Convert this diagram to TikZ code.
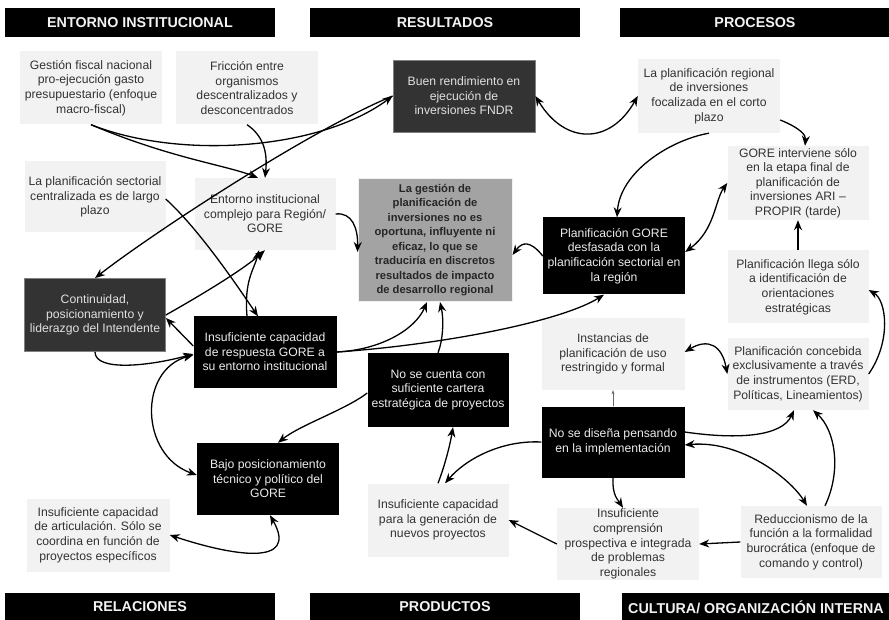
\documentclass[tikz,border=0pt]{standalone}
\usepackage{fontspec}
\setmainfont{Liberation Sans}
\usetikzlibrary{arrows.meta}
\definecolor{lbg}{HTML}{F2F2F2}
\definecolor{ltx}{HTML}{333333}
\definecolor{dg}{HTML}{333333}
\definecolor{cg}{HTML}{A3A3A3}
\begin{document}
\begin{tikzpicture}[x=1pt,y=-1pt,
 box/.style={align=center, inner sep=0pt, font=\fontsize{12.2}{14.6}\selectfont},
 lbox/.style={box, fill=lbg, text=ltx},
 bbox/.style={box, fill=black, text=white!92!black},
 gbox/.style={box, fill=dg, draw=gray, line width=0.8pt, text=white!88!black},
 cbox/.style={box, fill=cg, draw=lbg, line width=1pt, text=black!85, font=\fontsize{11.2}{14.5}\selectfont\bfseries},
 hdr/.style={fill=black, text=white!95!black, font=\fontsize{14.3}{16}\selectfont\bfseries, inner sep=0pt, minimum height=29pt},
 arr/.style={draw=black, line width=1.3pt, -{Stealth[length=10pt,width=8pt]}},
 arrb/.style={draw=black, line width=1.3pt, {Stealth[length=10pt,width=8pt]}-{Stealth[length=10pt,width=8pt]}},
 thin/.style={draw=black!60, line width=0.5pt, -{Stealth[length=4pt,width=3pt]}}]
\useasboundingbox (0,0) rectangle (889,620);
\fill[white] (0,0) rectangle (889,620);
% headers
\node[hdr, minimum width=270pt] (h1) at (140,22.5) {ENTORNO INSTITUCIONAL};
\node[hdr, minimum width=270pt] (h2) at (445,22.5) {RESULTADOS};
\node[hdr, minimum width=270pt] (h3) at (755,22.5) {PROCESOS};
\node[hdr, minimum width=270pt] (h4) at (140,607) {RELACIONES};
\node[hdr, minimum width=270pt] (h5) at (445,607) {PRODUCTOS};
\node[hdr, minimum width=268pt] (h6) at (756,607) {CULTURA/ ORGANIZACIÓN INTERNA};
% nodes
\node[lbox, minimum width=142pt, minimum height=73pt] (gest) at (91,88) {Gestión fiscal nacional\\pro-ejecución gasto\\presupuestario (enfoque\\macro-fiscal)};
\node[lbox, minimum width=142pt, minimum height=73pt] (fric) at (247,88) {Fricción entre\\organismos\\descentralizados y\\desconcentrados};
\node[gbox, minimum width=142pt, minimum height=72pt] (buen) at (464,96) {Buen rendimiento en\\ejecución de\\inversiones FNDR};
\node[lbox, minimum width=142pt, minimum height=74pt] (plreg) at (709,96) {La planificación regional\\de inversiones\\focalizada en el corto\\plazo};
\node[lbox, minimum width=141pt, minimum height=74pt] (goreint) at (798,183) {GORE interviene sólo\\en la etapa final de\\planificación de\\inversiones ARI –\\PROPIR (tarde)};
\node[lbox, minimum width=141pt, minimum height=73pt] (llega) at (798,287) {Planificación llega sólo\\a identificación de\\orientaciones\\estratégicas};
\node[lbox, minimum width=141pt, minimum height=72pt] (conceb) at (798,374) {Planificación concebida\\exclusivamente a través\\de instrumentos (ERD,\\Políticas, Lineamientos)};
\node[lbox, minimum width=141pt, minimum height=72pt] (reduc) at (811,542) {Reduccionismo de la\\función a la formalidad\\burocrática (enfoque de\\comando y control)};
\node[lbox, minimum width=142pt, minimum height=72pt] (compr) at (628,544) {Insuficiente\\comprensión\\prospectiva e integrada\\de problemas\\regionales};
\node[bbox, minimum width=143pt, minimum height=71pt] (disena) at (613,442) {No se diseña pensando\\en la implementación};
\node[lbox, minimum width=143pt, minimum height=72pt] (inst) at (613,354) {Instancias de\\planificación de uso\\restringido y formal};
\node[bbox, minimum width=142pt, minimum height=77pt] (pgore) at (614,256) {Planificación GORE\\desfasada con la\\planificación sectorial en\\la región};
\node[cbox, minimum width=154pt, minimum height=123pt] (central) at (435,240) {La gestión de\\planificación de\\inversiones no es\\oportuna, influyente ni\\eficaz, lo que se\\traduciría en discretos\\resultados de impacto\\de desarrollo regional};
\node[lbox, minimum width=141pt, minimum height=72pt] (entorno) at (265,214) {Entorno institucional\\complejo para Región/\\GORE};
\node[lbox, minimum width=141pt, minimum height=71pt] (sect) at (95,197) {La planificación sectorial\\centralizada es de largo\\plazo};
\node[gbox, minimum width=141pt, minimum height=73pt] (contin) at (95,315) {Continuidad,\\posicionamiento y\\liderazgo del Intendente};
\node[bbox, minimum width=143pt, minimum height=71pt] (insresp) at (265,352) {Insuficiente capacidad\\de respuesta GORE a\\su entorno institucional};
\node[bbox, minimum width=141pt, minimum height=74pt] (cartera) at (438,390) {No se cuenta con\\suficiente cartera\\estratégica de proyectos};
\node[bbox, minimum width=142pt, minimum height=72pt] (bajo) at (268,479) {Bajo posicionamiento\\técnico y político del\\GORE};
\node[lbox, minimum width=143pt, minimum height=73pt] (artic) at (98,535) {Insuficiente capacidad\\de articulación. Sólo se\\coordina en función de\\proyectos específicos};
\node[lbox, minimum width=141pt, minimum height=73pt] (gener) at (438,520) {Insuficiente capacidad\\para la generación de\\nuevos proyectos};
% connectors
\draw[arr] (gest.south) .. controls (180,160) and (320,150) .. (buen.west);
\draw[arr] (gest.south) .. controls (170,158) and (225,165) .. ([xshift=-7pt]entorno.north);
\draw[arr] (fric.south) .. controls (262,135) and (268,150) .. (entorno.north);
\draw[arr] (buen.west) .. controls (310,130) and (150,235) .. (contin.north);
\draw[arr] ([yshift=-2pt]sect.east) .. controls (200,230) and (240,290) .. ([xshift=-7pt]insresp.north);
\draw[arr] (contin.east) .. controls (210,290) and (245,268) .. (entorno.south);
\draw[arr] ([xshift=-18pt]insresp.north) .. controls (244,280) and (254,270) .. ([xshift=-6pt]entorno.south);
\draw[arr] (insresp.east) .. controls (380,350) and (415,330) .. ([xshift=-8pt]central.south);
\draw[arr] (insresp.east) .. controls (440,345) and (560,322) .. ([xshift=-10pt]pgore.south);
\draw[arr] (cartera.north) .. controls (443,340) and (444,320) .. ([xshift=5pt]central.south);
\draw[arr] (entorno.east) .. controls (352,212) and (358,228) .. ([yshift=-12pt]central.west);
\draw[arr] (pgore.west) .. controls (530,240) and (522,242) .. ([yshift=-15pt]central.east);
\draw[arr] (plreg.south) .. controls (670,140) and (620,172) .. ([xshift=3pt]pgore.north);
\draw[arrb] (buen.east) .. controls (565,145) and (610,145) .. (plreg.west);
\draw[arr] ([yshift=-24pt]plreg.east) .. controls (800,128) and (806,135) .. ([xshift=7pt]goreint.north);
\draw[arrb] ([yshift=4pt]pgore.east) .. controls (715,230) and (715,200) .. (goreint.west);
\draw[arr] (llega.north) -- (goreint.south);
\draw[arr] (conceb.east) .. controls (892,340) and (886,300) .. ([yshift=-3pt]llega.east);
\draw[arrb] ([yshift=2pt]inst.east) .. controls (708,338) and (722,345) .. (conceb.west);
\draw[thin] (disena.north) -- (inst.south);
\draw[arr] ([yshift=10pt]disena.east) .. controls (740,440) and (782,436) .. ([xshift=-4pt]conceb.south);
\draw[arrb] ([yshift=-3pt]disena.east) .. controls (740,440) and (790,478) .. ([xshift=-4pt]reduc.north);
\draw[arr] ([xshift=14pt]reduc.north) .. controls (842,470) and (835,430) .. ([xshift=15pt]conceb.south);
\draw[arr] (reduc.west) -- (compr.east);
\draw[arr] (disena.south) .. controls (612,495) and (618,500) .. ([xshift=-5pt]compr.north);
\draw[arr] (compr.west) -- (gener.east);
\draw[arr] (disena.west) .. controls (500,440) and (465,460) .. ([xshift=7pt]gener.north);
\draw[arr] (gener.north) .. controls (445,465) and (450,445) .. ([xshift=15pt]cartera.south);
\draw[arr] ([yshift=-3pt]cartera.west) .. controls (345,410) and (300,425) .. ([xshift=10pt]bajo.north);
\draw[arrb] ([yshift=-3pt]insresp.west) .. controls (138,370) and (140,455) .. ([yshift=4pt]bajo.west);
\draw[arr] (contin.south) .. controls (95,372) and (150,366) .. ([yshift=-2pt]insresp.west);
\draw[arr] ([yshift=6pt]insresp.west) -- ([yshift=-3pt]contin.east);
\draw[arrb] (artic.east) .. controls (230,555) and (300,568) .. ([xshift=2pt]bajo.south);
\end{tikzpicture}
\end{document}
